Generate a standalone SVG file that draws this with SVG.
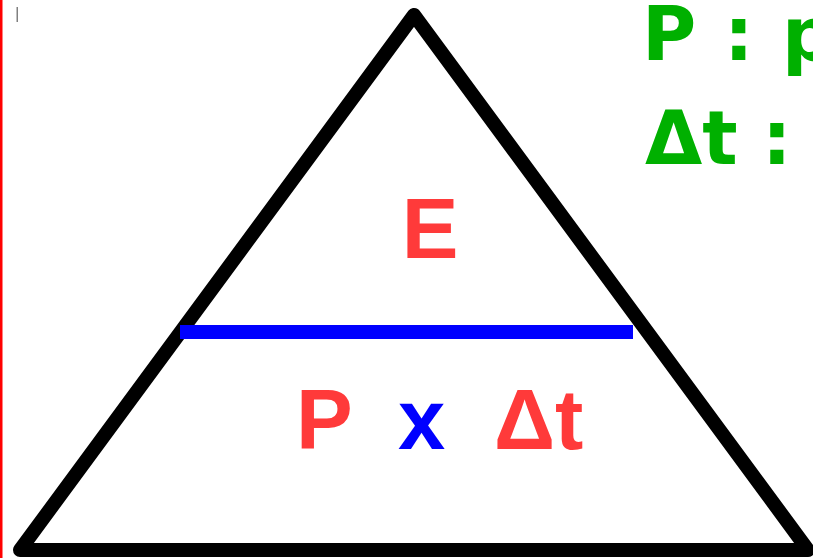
<svg xmlns="http://www.w3.org/2000/svg" width="813" height="558" viewBox="0 0 813 558">
<style>
.lbl{font-family:"Liberation Sans",Arial,sans-serif;font-weight:bold;font-size:85px}
.red{fill:#ff3a3a}
.blue{fill:#0000ff}
.green{font-family:"DejaVu Sans","Noto Sans",sans-serif;font-weight:bold;font-size:74px;fill:#00b000}
</style>
<rect x="0" y="0" width="813" height="558" fill="#ffffff"/>
<rect x="0" y="0" width="2.5" height="558" fill="#ff0000"/>
<rect x="16.5" y="7" width="1.5" height="15" fill="#808080"/>
<g id="connectors">
<polygon id="triangle" points="414,15 808,550 20,550" fill="none" stroke="#000000" stroke-width="14" stroke-linejoin="round"/>
<line id="divider" x1="180" y1="332" x2="633" y2="332" stroke="#0000ff" stroke-width="14"/>
</g>
<g id="node-E"><text class="lbl red" x="430" y="258" text-anchor="middle">E</text></g>
<g id="node-PxDt">
<text class="lbl red" x="296" y="449">P</text>
<text class="lbl blue" x="398" y="449">x</text>
<text class="lbl red" x="494" y="449">Δt</text>
</g>
<g id="legend">
<text class="green" x="642" y="60">P</text>
<text class="green" x="724" y="60">:</text>
<text class="green" x="782" y="60">p</text>
<text class="green" x="645" y="164">Δt</text>
<text class="green" x="762" y="164">:</text>
</g>
</svg>
